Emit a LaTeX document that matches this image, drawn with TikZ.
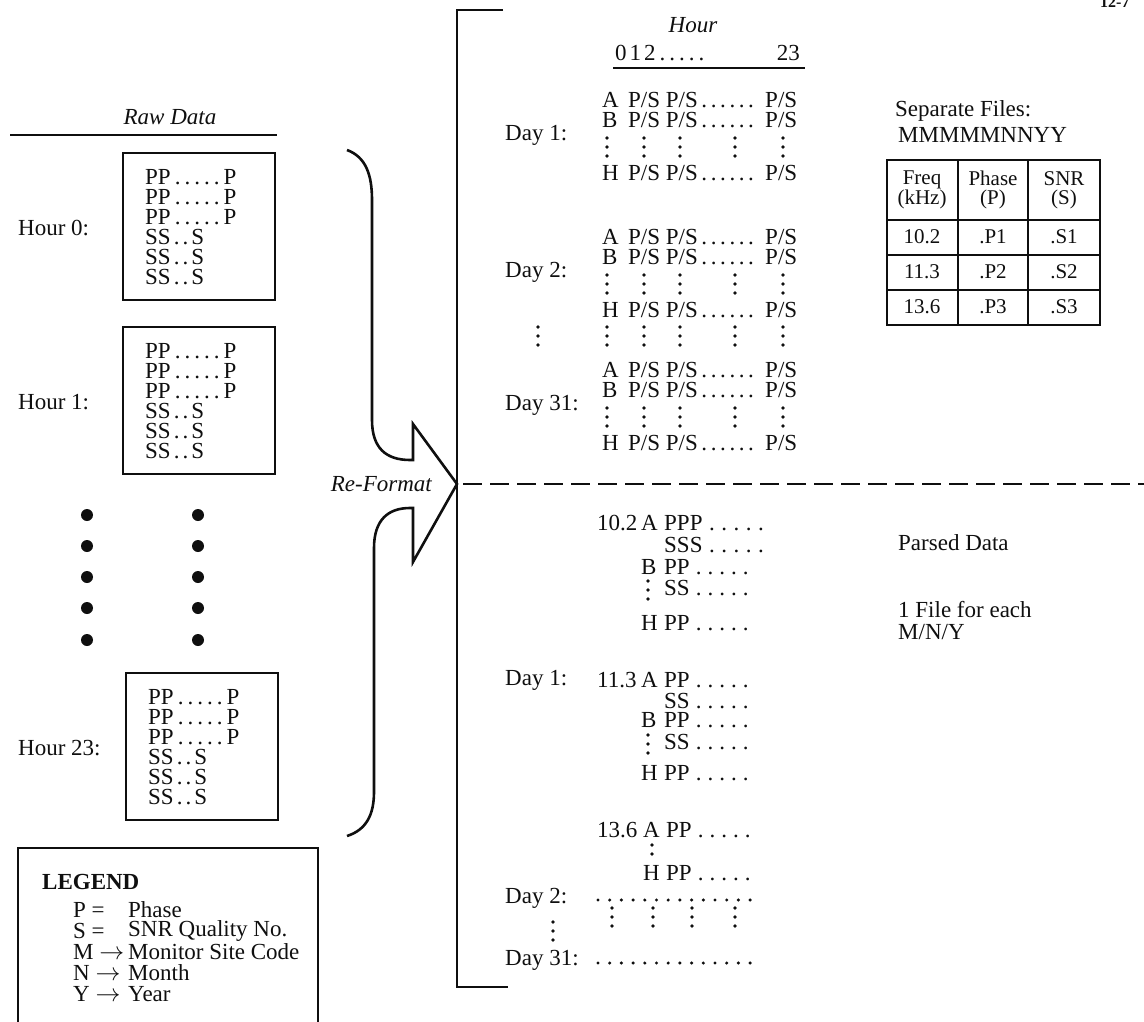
\documentclass[tikz,border=0pt]{standalone}
\usepackage{fontspec}
\setmainfont{Liberation Serif}
\usetikzlibrary{positioning}
\definecolor{ink}{RGB}{15,15,15}
\tikzset{
  every node/.style={inner sep=0pt,text=ink},
  txt/.style={font=\fontsize{23}{20}\selectfont,anchor=west},
  itl/.style={font=\fontsize{23}{20}\selectfont\itshape},
  tbl/.style={font=\fontsize{21}{19}\selectfont,align=center},
  rule/.style={draw=ink,line width=2.6pt},
  rawbox/.style={draw=ink,line width=2.6pt},
  grid/.style={draw=ink,line width=2.6pt},
  cut/.style={draw=ink,line width=2.6pt,dash pattern=on 19pt off 8pt},
}
% dotted leader: \pdots[gap]{count}
\newcommand{\pdots}[2][4pt]{\foreach \i in {1,...,#2}{\kern#1.}\kern#1\relax}
% vertical ellipsis of three dots
\newcommand{\vdotsat}[2]{\foreach \k in {0,1,2}{\fill[ink] (#1,#2+\k*9) circle (1.8pt);}}
\newcommand{\psrow}{P/S P/S\pdots[3.6pt]{6} P/S}

\begin{document}
\begin{tikzpicture}[x=1pt,y=-1pt]
\useasboundingbox (0,0) rectangle (1144,1022);

% figure number, cut at the top edge
\node[font=\fontsize{16}{16}\selectfont\bfseries,anchor=west] (fignum) at (1100,2) {12-7};

% ---- raw data column
\node[itl] (rawtitle) at (170,117) {Raw Data};
\draw[rule] (10,135) -- (277,135);
\foreach \bx/\by/\lab/\nm in {123/153/Hour 0:/h0,123/327/Hour 1:/h1,126/673/Hour 23:/h23}{
  \draw[rawbox] (\bx,\by) rectangle ++(152,147);
  \node[txt] (\nm) at (18,\by+75) {\lab};
  \foreach \k in {0,1,2}
    \node[txt] (\nm-p\k) at (\bx+22,\by+24+\k*20) {PP\pdots{5}P};
  \foreach \k in {3,4,5}
    \node[txt] (\nm-s\k) at (\bx+22,\by+24+\k*20) {SS\pdots[3pt]{2}S};
}
\foreach \y in {515,546,577,608,640}{
  \fill[ink] (87,\y) circle (6pt);
  \fill[ink] (198,\y) circle (6pt);
}

% ---- legend
\draw[ink,line width=2pt] (18,1022) -- (18,848) -- (318,848) -- (318,1022);
\node[txt,font=\fontsize{23}{20}\selectfont\bfseries] (legend) at (42,882) {LEGEND};
\foreach \y/\key/\val [count=\n] in {910/P =/Phase,931/S =/SNR Quality No.,952/M $\to$/Monitor Site Code,973/N $\to$/Month,994/Y $\to$/Year}{
  \node[txt] (key\n) at (73,\y) {\key};
  \node[txt] (val\n) at (128,\y) {\val};
}

% ---- re-format brace and arrow
\draw[ink,line width=2.6pt,line join=miter]
  (347,150) .. controls (366,157) and (372,175) .. (372,200) -- (372,420)
  .. controls (372,448) and (386,460) .. (410,460) -- (413,460) -- (413,424)
  -- (457,484) -- (413,562) -- (413,508) -- (410,508)
  .. controls (388,508) and (374,520) .. (374,548) -- (374,792)
  .. controls (374,815) and (366,830) .. (347,836);
\node[itl,anchor=east] (reformat) at (432,484) {Re-Format};

% ---- bracket and divider
\draw[ink,line width=2.8pt] (503,10) -- (457,10) -- (457,987) -- (508,987);
\coordinate (cutL) at (463,484);
\coordinate (cutR) at (1144,484);
\draw[cut] (cutL) -- (cutR);

% ---- separate files (upper half)
\node[itl] (hourlab) at (693,25) {Hour};
\node[txt] (hnums) at (615,53) {0\kern3pt1\kern3pt2\pdots{5}};
\node[txt,anchor=east] (hlast) at (800,53) {23};
\draw[rule] (613,68) -- (805,68);
\foreach \dy/\lab/\nm in {100/Day 1:/d1,237/Day 2:/d2,370/Day 31:/d31}{
  \node[txt] (\nm) at (505,\dy+35) {\lab};
  \node[txt] (\nm-a) at (602,\dy) {A};
  \node[txt] (\nm-ar) at (628,\dy) {\psrow};
  \node[txt] (\nm-b) at (602,\dy+20) {B};
  \node[txt] (\nm-br) at (628,\dy+20) {\psrow};
  \foreach \cx in {607,644,680,735,783} \vdotsat{\cx}{\dy+38};
  \node[txt] (\nm-h) at (602,\dy+73) {H};
  \node[txt] (\nm-hr) at (628,\dy+73) {\psrow};
}
\foreach \cx in {538,607,644,680,735,783} \vdotsat{\cx}{327};

\node[txt] (sepfiles) at (895,111) {Separate Files:};
\node[txt] (fname) at (898,135) {MMMMMNNYY};
\draw[grid] (887,160) rectangle (1100,325);
\foreach \y in {220,255,290} \draw[grid] (887,\y) -- (1100,\y);
\foreach \x in {958,1028} \draw[grid] (\x,160) -- (\x,325);
\node[tbl] (thf) at (922,190) {Freq\\(kHz)};
\node[tbl] (thp) at (993,190) {Phase\\(P)};
\node[tbl] (ths) at (1064,190) {SNR\\(S)};
\foreach \y/\f/\n [count=\r] in {237/10.2/1,272/11.3/2,307/13.6/3}{
  \node[tbl] (tf\r) at (922,\y) {\f};
  \node[tbl] (tp\r) at (993,\y) {.P\n};
  \node[tbl] (ts\r) at (1064,\y) {.S\n};
}

% ---- parsed data (lower half)
\node[txt] (f102) at (597,523) {10.2};
\node[txt] (f102-a) at (641,523) {A};
\node[txt] at (664,523) {PPP\pdots[6.5pt]{5}};
\node[txt] at (664,545) {SSS\pdots[6.5pt]{5}};
\node[txt] (f102-b) at (641,567) {B};
\node[txt] at (664,567) {PP\pdots[6pt]{5}};
\vdotsat{648}{581}
\node[txt] at (664,588) {SS\pdots[6pt]{5}};
\node[txt] (f102-h) at (641,623) {H};
\node[txt] at (664,623) {PP\pdots[6pt]{5}};

\node[txt] (pday1) at (505,680) {Day 1:};
\node[txt] (f113) at (597,680) {11.3};
\node[txt] (f113-a) at (641,680) {A};
\node[txt] at (664,680) {PP\pdots[6pt]{5}};
\node[txt] at (664,701) {SS\pdots[6pt]{5}};
\node[txt] (f113-b) at (641,720) {B};
\node[txt] at (664,720) {PP\pdots[6pt]{5}};
\vdotsat{648}{735}
\node[txt] at (664,742) {SS\pdots[6pt]{5}};
\node[txt] (f113-h) at (641,773) {H};
\node[txt] at (664,773) {PP\pdots[6pt]{5}};

\node[txt] (f136) at (597,830) {13.6};
\node[txt] (f136-a) at (643,830) {A};
\node[txt] at (666,830) {PP\pdots[6pt]{5}};
\foreach \y in {845,854} \fill[ink] (652,\y) circle (1.8pt);
\node[txt] (f136-h) at (643,873) {H};
\node[txt] at (666,873) {PP\pdots[6pt]{5}};

\node[txt] (pday2) at (505,898) {Day 2:};
\foreach \i in {0,...,13} \fill[ink] (598+\i*11.7,900) circle (1.7pt);
\foreach \cx in {612,653,692,735} \vdotsat{\cx}{908};
\vdotsat{553}{922}
\node[txt] (pday31) at (505,960) {Day 31:};
\foreach \i in {0,...,13} \fill[ink] (598+\i*11.7,963) circle (1.7pt);

\node[txt] (parsed) at (898,543) {Parsed Data};
\node[txt] (perfile) at (898,610) {1 File for each};
\node[txt] (mny) at (898,632) {M/N/Y};
\end{tikzpicture}
\end{document}
